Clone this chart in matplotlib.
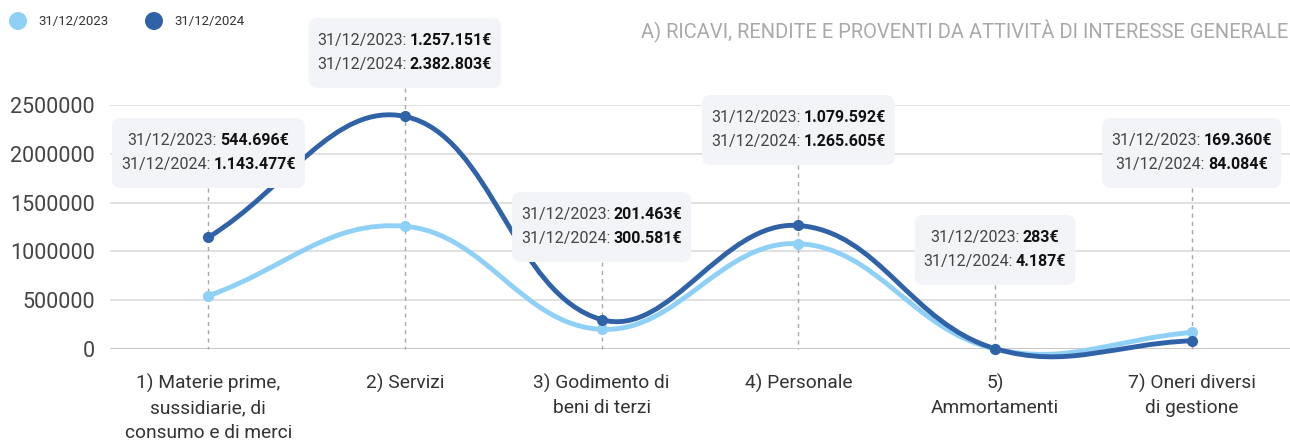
import matplotlib
matplotlib.use("Agg")
import matplotlib.pyplot as plt
from matplotlib.path import Path
from matplotlib.patches import PathPatch, FancyBboxPatch, Circle
from matplotlib.transforms import IdentityTransform
import numpy as np

categories = ["1) Materie prime,\nsussidiarie, di\nconsumo e di merci", "2) Servizi",
              "3) Godimento di\nbeni di terzi", "4) Personale", "5)\nAmmortamenti",
              "7) Oneri diversi\ndi gestione"]
series_names = ["31/12/2023", "31/12/2024"]
values_2023 = [544696, 1257151, 201463, 1079592, 283, 169360]
values_2024 = [1143477, 2382803, 300581, 1265605, 4187, 84084]
tip_2023 = ["544.696€", "1.257.151€", "201.463€", "1.079.592€", "283€", "169.360€"]
tip_2024 = ["1.143.477€", "2.382.803€", "300.581€", "1.265.605€", "4.187€", "84.084€"]
yticks = [0, 500000, 1000000, 1500000, 2000000, 2500000]
title = "A) RICAVI, RENDITE E PROVENTI DA ATTIVITÀ DI INTERESSE GENERALE"

colors = ["#8fd0f7", "#2f62a6"]
FONT = ["Roboto", "DejaVu Sans"]
plt.rcParams['font.family'] = FONT

W, H = 1290, 448
fig = plt.figure(figsize=(W / 100, H / 100), dpi=100)
ax = fig.add_axes([110 / W, 99 / H, 1180 / W, 244 / H])
ax.set_xlim(-0.5, len(categories) - 0.5)
ax.set_ylim(0, 2500000)
for s in ax.spines.values():
    s.set_visible(False)
ax.set_yticks(yticks)
ax.set_yticklabels([str(v) for v in yticks])
ax.set_xticks(range(len(categories)))
ax.set_xticklabels(categories, linespacing=1.45)
ax.tick_params(axis='y', length=0, pad=11, labelsize=15.5, labelcolor="#444444")
ax.tick_params(axis='x', length=0, pad=18, labelsize=13.8, labelcolor="#333333")
for v in yticks:
    ax.axhline(v, color="#dcdcdc" if v else "#bdbdbd", lw=1.2, zorder=0)

# pixel scale for spline tension (Chart.js style)
sx = 1180 / len(categories)
sy = 244 / 2500000


def smooth_path(xs, ys, tension=0.4):
    pts = np.column_stack([xs, ys]).astype(float)
    n = len(pts)
    cp_prev = pts.copy()
    cp_next = pts.copy()
    for i in range(n):
        p0 = pts[max(i - 1, 0)]
        p1 = pts[i]
        p2 = pts[min(i + 1, n - 1)]
        d01 = np.hypot((p1[0] - p0[0]) * sx, (p1[1] - p0[1]) * sy)
        d12 = np.hypot((p2[0] - p1[0]) * sx, (p2[1] - p1[1]) * sy)
        tot = d01 + d12
        s01 = d01 / tot if tot else 0
        s12 = d12 / tot if tot else 0
        fa = tension * s01
        fb = tension * s12
        cp_prev[i] = p1 - fa * (p2 - p0)
        cp_next[i] = p1 + fb * (p2 - p0)
    verts = [tuple(pts[0])]
    codes = [Path.MOVETO]
    for i in range(n - 1):
        verts += [tuple(cp_next[i]), tuple(cp_prev[i + 1]), tuple(pts[i + 1])]
        codes += [Path.CURVE4] * 3
    return Path(verts, codes)


xs = np.arange(len(categories))
for vals, col, z in [(values_2023, colors[0], 3), (values_2024, colors[1], 4)]:
    ax.add_patch(PathPatch(smooth_path(xs, vals), fill=False, edgecolor=col, lw=3.5,
                           zorder=z, clip_on=False, capstyle='round'))
    ax.plot(xs, vals, 'o', color=col, ms=7, zorder=z + 2, clip_on=False)

# tooltips
tip_bottom_px = [188, 88, 262, 165, 285, 188]
fig.canvas.draw()
renderer = fig.canvas.get_renderer()
ident = IdentityTransform()
axis_bottom = ax.transData.transform((0, 0))[1]
for i in range(len(categories)):
    cx = ax.transData.transform((i, 0))[0]
    yb = H - tip_bottom_px[i]
    ytop = yb + 70
    line_y = [ytop - 22, ytop - 46]
    extents = []
    for li, (lab, val) in enumerate([(series_names[0], tip_2023[i]), (series_names[1], tip_2024[i])]):
        t1 = ax.text(0, 0, lab + ":", transform=ident, fontsize=11.5, color="#444444",
                     ha='left', va='center', zorder=21)
        t2 = ax.text(0, 0, val, transform=ident, fontsize=11.5, color="#111111",
                     fontweight='bold', ha='left', va='center', zorder=21)
        w1 = t1.get_window_extent(renderer).width
        w2 = t2.get_window_extent(renderer).width
        gap = 3
        x0 = cx - (w1 + gap + w2) / 2
        t1.set_position((x0, line_y[li]))
        t2.set_position((x0 + w1 + gap, line_y[li]))
        extents.append((x0, x0 + w1 + gap + w2))
    bx0 = min(e[0] for e in extents) - 9
    bx1 = max(e[1] for e in extents) + 9
    box = FancyBboxPatch((bx0, yb), bx1 - bx0, 70, boxstyle="round,pad=0,rounding_size=9",
                         transform=ident, facecolor="#f2f4f7", edgecolor="none",
                         zorder=20, clip_on=False)
    ax.add_patch(box)
    ax.plot([cx, cx], [yb, axis_bottom], transform=ident, color="#a8a8a8", lw=1,
            linestyle=(0, (3, 3)), zorder=1, clip_on=False)

# legend
for (lx, name, col) in [(18, series_names[0], colors[0]), (154, series_names[1], colors[1])]:
    fig.patches.append(Circle((lx, H - 21), 9, transform=ident, facecolor=col,
                              edgecolor='none', figure=fig))
    fig.text((lx + 20) / W, 1 - 21 / H, name, fontsize=9.5, color="#333333", va='center', ha='left')

fig.text(1288 / W, 1 - 31 / H, title, fontsize=14.5, color="#a9a9a9", ha='right', va='center')

fig.savefig("out.png", dpi=100)
